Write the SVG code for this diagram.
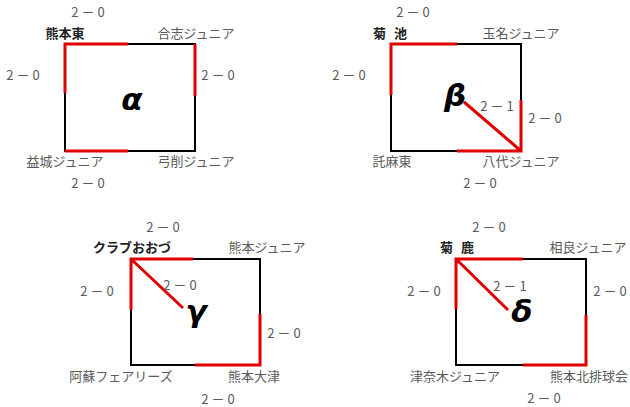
<svg xmlns="http://www.w3.org/2000/svg" width="630" height="407" viewBox="0 0 630 407">
<style>
.t{font-family:"Noto Sans CJK JP","Liberation Sans",sans-serif;font-size:13px;fill:#595959;text-anchor:middle}
.b{font-weight:bold;fill:#222}
.g{font-family:"DejaVu Sans","Liberation Sans",sans-serif;font-weight:bold;font-style:italic;font-size:31px;fill:#000;text-anchor:middle}
.k{fill:none;stroke:#000;stroke-width:2}
.r{fill:none;stroke:#e00000;stroke-width:3;stroke-linecap:butt}
</style>
<rect width="630" height="407" fill="#fff"/>
<g id="connectors">
<rect class="k" x="65" y="44" width="130" height="107"/>
<path class="r" d="M65,93V44H128M195,44V96M65,151H128"/>
<rect class="k" x="391" y="44" width="130" height="107"/>
<path class="r" d="M391,95V44H457M521,100V151H457M464,102L521,151"/>
<rect class="k" x="131" y="259" width="129" height="106"/>
<path class="r" d="M131,310V259H193M260,314V365H195M131,259L183,308"/>
<rect class="k" x="456" y="259" width="130" height="106"/>
<path class="r" d="M456,309V259H523M586,315V365H523M456,259L508,310"/>
</g>
<g id="pool-alpha">
<text class="g" x="132" y="110">α</text>
<g id="a1"><text class="t b" x="65" y="37.5">熊本東</text></g>
<g id="a2"><text class="t" x="196" y="37.5">合志ジュニア</text></g>
<g id="a3"><text class="t" x="65" y="165.5">益城ジュニア</text></g>
<g id="a4"><text class="t" x="196" y="165.5">弓削ジュニア</text></g>
<text class="t" x="88" y="16.5">2 － 0</text>
<text class="t" x="23" y="79.5">2 － 0</text>
<text class="t" x="218" y="79.5">2 － 0</text>
<text class="t" x="88" y="187.5">2 － 0</text>
</g>
<g id="pool-beta">
<text class="g" x="455" y="106">β</text>
<g id="b1"><text class="t b" x="390" y="37.5" textLength="34">菊 池</text></g>
<g id="b2"><text class="t" x="521" y="37.5">玉名ジュニア</text></g>
<g id="b3"><text class="t" x="392" y="165.5">託麻東</text></g>
<g id="b4"><text class="t" x="521" y="165.5">八代ジュニア</text></g>
<text class="t" x="413" y="16.5">2 － 0</text>
<text class="t" x="349" y="79.5">2 － 0</text>
<text class="t" x="497" y="110.5">2 － 1</text>
<text class="t" x="545" y="122.5">2 － 0</text>
<text class="t" x="480" y="187.5">2 － 0</text>
</g>
<g id="pool-gamma">
<text class="g" x="196" y="322">γ</text>
<g id="c1"><text class="t b" x="132" y="251.5">クラブおおづ</text></g>
<g id="c2"><text class="t" x="267" y="251.5">熊本ジュニア</text></g>
<g id="c3"><text class="t" x="121" y="380.5">阿蘇フェアリーズ</text></g>
<g id="c4"><text class="t" x="254" y="380.5">熊本大津</text></g>
<text class="t" x="163" y="231.5">2 － 0</text>
<text class="t" x="97" y="295.5">2 － 0</text>
<text class="t" x="180" y="289.5">2 － 0</text>
<text class="t" x="284" y="337.5">2 － 0</text>
<text class="t" x="218" y="403.5">2 － 0</text>
</g>
<g id="pool-delta">
<text class="g" x="522" y="322">δ</text>
<g id="d1"><text class="t b" x="457" y="251.5" textLength="34">菊 鹿</text></g>
<g id="d2"><text class="t" x="588" y="251.5">相良ジュニア</text></g>
<g id="d3"><text class="t" x="455" y="380.5">津奈木ジュニア</text></g>
<g id="d4"><text class="t" x="589" y="380.5">熊本北排球会</text></g>
<text class="t" x="489" y="231.5">2 － 0</text>
<text class="t" x="424" y="295.5">2 － 0</text>
<text class="t" x="510" y="290.5">2 － 1</text>
<text class="t" x="610" y="295.5">2 － 0</text>
<text class="t" x="544" y="402.5">2 － 0</text>
</g>
</svg>
